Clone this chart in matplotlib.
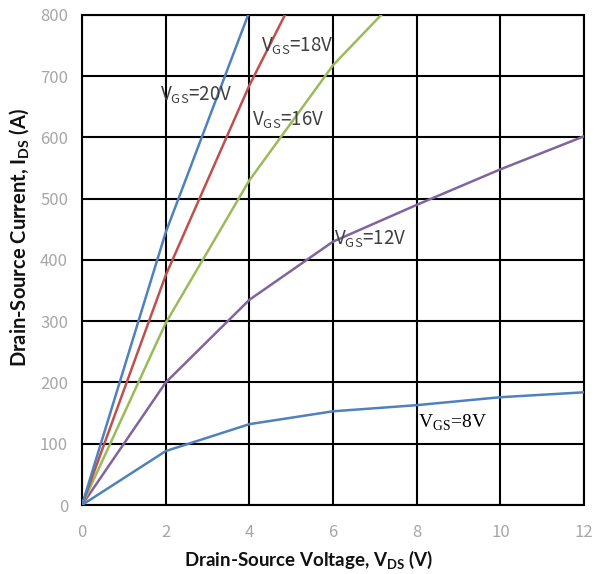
import matplotlib
matplotlib.use("Agg")
import matplotlib.pyplot as plt

# Data
vds_8 = [0, 2, 4, 6, 8, 10, 12]
ids_8 = [0, 88, 132, 153, 163, 176, 184]
vds_12 = [0, 2, 4, 6, 8, 10, 12]
ids_12 = [0, 200, 335, 430, 490, 548, 602]
vds_16 = [0, 2, 4, 6, 7.15]
ids_16 = [0, 297, 530, 718, 800]
vds_18 = [0, 2, 4, 4.85]
ids_18 = [0, 375, 685, 800]
vds_20 = [0, 2, 3.97]
ids_20 = [0, 445, 800]

x_ticks = [0, 2, 4, 6, 8, 10, 12]
y_ticks = [0, 100, 200, 300, 400, 500, 600, 700, 800]

sans = ["Noto Sans CJK SC", "DejaVu Sans"]

fig = plt.figure(figsize=(5.96, 5.74), dpi=100)
ax = fig.add_axes([0.1376, 0.1202, 0.8424, 0.8537])

ax.plot(vds_8, ids_8, color="#4F81BD", lw=1.8, zorder=3)
ax.plot(vds_12, ids_12, color="#8064A2", lw=1.8, zorder=3)
ax.plot(vds_16, ids_16, color="#9BBB59", lw=1.8, zorder=3)
ax.plot(vds_18, ids_18, color="#C0504D", lw=1.8, zorder=3)
ax.plot(vds_20, ids_20, color="#4F81BD", lw=1.8, zorder=3)

ax.set_xlim(0, 12)
ax.set_ylim(0, 800)
ax.set_xticks(x_ticks)
ax.set_yticks(y_ticks)
ax.grid(True, color="black", lw=1.5, zorder=1)
for s in ax.spines.values():
    s.set_color("black")
    s.set_linewidth(1.5)
ax.tick_params(length=0, labelsize=12, labelcolor="#a6a6a6")
ax.tick_params(axis="x", pad=14)
ax.tick_params(axis="y", pad=10)
for lab in ax.get_xticklabels() + ax.get_yticklabels():
    lab.set_family(sans)

ax.set_xlabel(r"Drain-Source Voltage, V$_{\mathregular{DS}}$ (V)", fontsize=13.5,
              fontweight="bold", family=["Lato", "DejaVu Sans"], color="#111111")
ax.set_ylabel(r"Drain-Source Current, I$_{\mathregular{DS}}$ (A)", fontsize=14.5,
              fontweight="bold", family=["Lato", "DejaVu Sans"], color="#111111")
ax.xaxis.set_label_coords(0.452, -0.088)
ax.yaxis.set_label_coords(-0.102, 0.545)

lab_kw = dict(fontsize=13.5, color="#404040", va="center", ha="left", zorder=4,
              family=sans)
ax.text(1.87, 669, r"V$_{\mathregular{GS}}$=20V", **lab_kw)
ax.text(4.28, 749, r"V$_{\mathregular{GS}}$=18V", **lab_kw)
ax.text(4.07, 628, r"V$_{\mathregular{GS}}$=16V", **lab_kw)
ax.text(6.03, 433, r"V$_{\mathregular{GS}}$=12V", **lab_kw)
ax.text(8.04, 134, r"V$_{\mathregular{GS}}$=8V", fontsize=14, color="black",
        va="center", ha="left", family="Liberation Serif", zorder=4)

fig.savefig("out.png", dpi=100)
